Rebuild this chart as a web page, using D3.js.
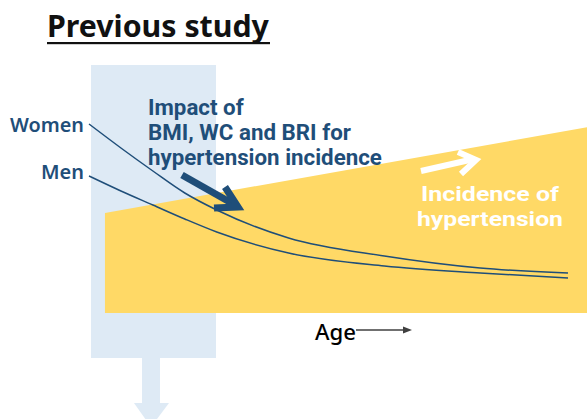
<!DOCTYPE html>
<html><head><meta charset="utf-8">
<script src="https://cdn.jsdelivr.net/npm/d3@7"></script>
<style>html,body{margin:0;padding:0;background:#fff;overflow:hidden}</style>
</head><body>
<script>
// Data (arbitrary units read from the schematic)
const ages = [20, 24, 28, 32, 36, 45, 57, 69, 80];
const women = [94.5, 82.5, 71, 60, 51.5, 37.5, 28.5, 22.5, 20];
const men = [68.5, 61, 54, 47, 40.5, 30, 23.5, 20, 17.5];
const incidenceAges = [22, 82.5];
const incidence = [50, 93];
const seriesLabels = ["Women", "Men"];
const title = "Previous study";
const impactText = ["Impact of", "BMI, WC and BRI for", "hypertension incidence"];
const incidenceText = ["Incidence of", "hypertension"];
const axisLabel = "Age";

const W = 587, H = 419;
const svg = d3.select("body").append("svg").attr("width", W).attr("height", H);
const x = d3.scaleLinear().domain([20, 80]).range([89, 568]);
const y = d3.scaleLinear().domain([0, 100]).range([313, 113]);
const FONT = "'Noto Sans',sans-serif";
const FONT2 = "Roboto,'Noto Sans',sans-serif";
const BLUE = "#1f4e79";

function fit(sel, w) {
  sel.each(function() {
    const bw = this.getComputedTextLength();
    const fs = +d3.select(this).attr("font-size");
    d3.select(this).attr("font-size", (fs * w / bw).toFixed(2));
  });
}

// light blue band + down arrow
svg.append("rect").attr("x", 91).attr("y", 65).attr("width", 125).attr("height", 293).attr("fill", "#deeaf5");
svg.append("path").attr("d", "M142,358 L160,358 L160,403 L169,403 L151,427 L134,403 L142,403 Z").attr("fill", "#deeaf5");

// incidence area
const incData = incidenceAges.map((a, i) => ({a, v: incidence[i]}));
svg.append("path").datum(incData)
  .attr("d", d3.area().x(d => x(d.a)).y0(y(0)).y1(d => y(d.v)))
  .attr("fill", "#FFD966");

// lines
const line = d3.line().x((d, i) => x(ages[i])).y(d => y(d)).curve(d3.curveMonotoneX);
[women, men].forEach(s => {
  svg.append("path").datum(s).attr("d", line).attr("fill", "none").attr("stroke", BLUE).attr("stroke-width", 1.5);
});
const lab = svg.selectAll(".slab").data(seriesLabels).join("text")
  .attr("x", 84).attr("y", (d, i) => i === 0 ? 132 : 179)
  .attr("text-anchor", "end").attr("font-family", FONT).attr("font-weight", 600)
  .attr("font-size", 19).attr("fill", BLUE).text(d => d);
fit(lab.filter((d, i) => i === 0), 74);
fit(lab.filter((d, i) => i === 1), 43);

// title
const t = svg.append("text").attr("x", 47).attr("y", 37).attr("font-family", FONT).attr("font-weight", 700)
  .attr("font-size", 28).attr("fill", "#111").text(title);
fit(t, 222);
svg.append("rect").attr("x", 47).attr("y", 42).attr("width", 223).attr("height", 2.2).attr("fill", "#111");

// impact text
const probe = svg.append("text").attr("font-family", FONT2).attr("font-weight", 700)
  .attr("font-size", 20).text(impactText[2]);
const impSize = 20 * 234 / probe.node().getComputedTextLength();
probe.remove();
svg.append("g").selectAll("text").data(impactText).join("text")
  .attr("font-family", FONT2).attr("font-weight", 700).attr("font-size", impSize.toFixed(2))
  .attr("fill", BLUE).attr("x", 148).attr("y", (d, i) => 115 + i * 25).text(d => d);

// dark arrow
svg.append("path").attr("d", "M182,175 L235,205").attr("stroke", BLUE).attr("stroke-width", 7).attr("fill", "none");
svg.append("path").attr("d", "M225,187 L238,207 L214,208").attr("stroke", BLUE).attr("stroke-width", 7).attr("fill", "none").attr("stroke-linejoin", "miter");

// white arrow
svg.append("path").attr("d", "M421,171 L474,159").attr("stroke", "#fff").attr("stroke-width", 6).attr("fill", "none");
svg.append("path").attr("d", "M458,152 L476,160 L461,174").attr("stroke", "#fff").attr("stroke-width", 6).attr("fill", "none");

// incidence text (widths)
const incWidths = [138, 146];
svg.append("g").selectAll("text").data(incidenceText).join("text")
  .attr("font-family", FONT2).attr("font-weight", 700).attr("font-size", 20.5)
  .attr("fill", "#fff").attr("text-anchor", "middle")
  .attr("x", 490).attr("y", (d, i) => 200.5 + i * 25)
  .attr("textLength", (d, i) => incWidths[i]).attr("lengthAdjust", "spacingAndGlyphs")
  .text(d => d);

// Age axis label + arrow
const ag = svg.append("text").attr("x", 315).attr("y", 340).attr("font-family", FONT).attr("font-weight", 500)
  .attr("font-size", 22).attr("fill", "#000").text(axisLabel);
fit(ag, 41);
svg.append("line").attr("x1", 356).attr("x2", 405).attr("y1", 330).attr("y2", 330).attr("stroke", "#404040").attr("stroke-width", 1.5);
svg.append("path").attr("d", "M412,330 L403,326.5 L403,333.5 Z").attr("fill", "#404040");
</script>
</body></html>
